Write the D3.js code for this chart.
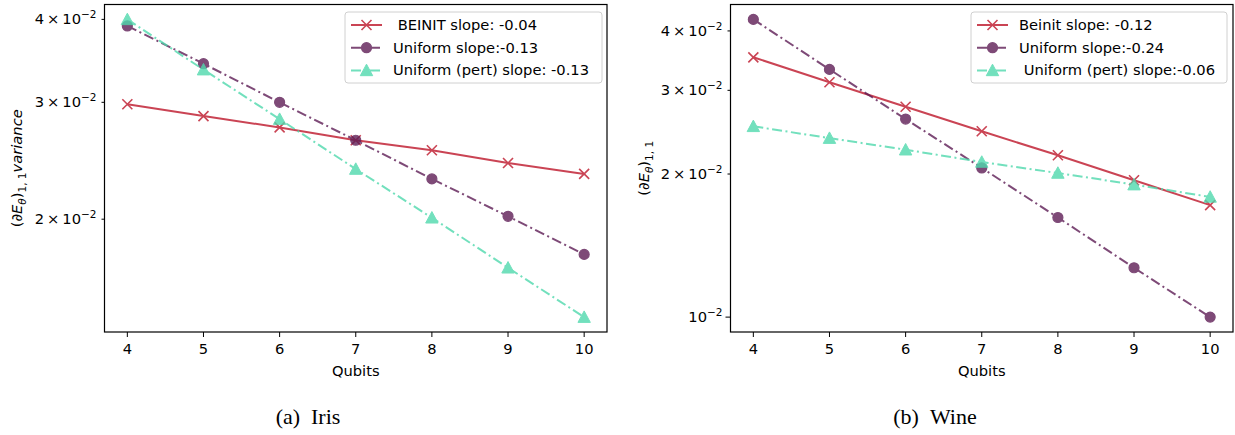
<!DOCTYPE html>
<html>
<head>
<meta charset="utf-8">
<script src="https://cdn.jsdelivr.net/npm/d3@7"></script>
<style>
  body { margin: 0; background: #fff; }
  text { font-family: "DejaVu Sans", sans-serif; fill: #000; white-space: pre; }
  .caption { font-family: "Liberation Serif", "Times New Roman", serif; }
</style>
</head>
<body>
<div id="chart"></div>
<script>
// values
var qubits = [4, 5, 6, 7, 8, 9, 10];

var irisBeinit  = [0.0298, 0.0286, 0.0275, 0.0263, 0.0254, 0.0243, 0.0234];
var irisUniform = [0.0391, 0.0343, 0.0300, 0.0263, 0.0230, 0.0202, 0.0177];
var irisPert    = [0.0400, 0.0336, 0.0283, 0.0238, 0.0201, 0.0169, 0.01424];

var wineBeinit  = [0.0352, 0.0312, 0.0277, 0.0246, 0.0219, 0.0194, 0.0172];
var wineUniform = [0.0423, 0.0332, 0.0261, 0.0206, 0.0162, 0.0127, 0.0100];
var winePert    = [0.0252, 0.0238, 0.0225, 0.0212, 0.0201, 0.0190, 0.0179];

var irisLegend = [" BEINIT slope: -0.04", "Uniform slope:-0.13", "Uniform (pert) slope: -0.13"];
var wineLegend = ["Beinit slope: -0.12", "Uniform slope:-0.24", " Uniform (pert) slope:-0.06"];

var irisYTicks = [0.02, 0.03, 0.04];
var wineYTicks = [0.01, 0.02, 0.03, 0.04];
var xTicks = [4, 5, 6, 7, 8, 9, 10];

var styles = [
  {color: "#c83a4b", dash: null, marker: "x", opacity: 0.95},
  {color: "#5e1d56", dash: "10,3.5,2,3.5", marker: "o", opacity: 0.8},
  {color: "#4fd9ad", dash: "10,3.5,2,3.5", marker: "^", opacity: 0.8}
];

var fs = "14.7px";

var svg = d3.select("#chart").append("svg")
  .attr("width", 1235)
  .attr("height", 435);

function drawMarker(g, type, color, cx, cy) {
  if (type === "x") {
    var s = 5;
    g.append("path")
      .attr("d", "M" + (cx - s) + "," + (cy - s) + "L" + (cx + s) + "," + (cy + s) +
                 "M" + (cx - s) + "," + (cy + s) + "L" + (cx + s) + "," + (cy - s))
      .style("stroke", color).style("stroke-width", 1.6).style("fill", "none");
  } else if (type === "o") {
    g.append("circle")
      .attr("cx", cx).attr("cy", cy).attr("r", 5)
      .style("fill", color).style("stroke", color).style("stroke-width", 1.2);
  } else {
    var h = 6.2;
    g.append("path")
      .attr("d", "M" + cx + "," + (cy - h) + "L" + (cx + h) + "," + (cy + h * 0.85) + "L" + (cx - h) + "," + (cy + h * 0.85) + "Z")
      .style("fill", color).style("stroke", color).style("stroke-width", 1);
  }
}

function tickLabel(t, v) {
  var k = Math.round(v * 100);
  t.attr("text-anchor", "end");
  if (k === 1) {
    t.append("tspan").text("10");
  } else {
    t.append("tspan").text(k + "\u2009\u00d7\u200910");
  }
  t.append("tspan").attr("dy", -6).style("font-size", "10.5px").text("\u22122");
}

function drawPanel(cfg) {
  var x = d3.scaleLinear().domain([3.7, 10.3]).range([cfg.left, cfg.right]);

  var all = [].concat(cfg.series[0], cfg.series[1], cfg.series[2]);
  var lo = Math.log10(d3.min(all)), hi = Math.log10(d3.max(all)), pad = (hi - lo) * 0.05;
  var y = d3.scaleLog().domain([Math.pow(10, lo - pad), Math.pow(10, hi + pad)]).range([cfg.bottom, cfg.top]);

  var g = svg.append("g");

  // lines and markers
  cfg.series.forEach(function(vals, i) {
    var st = styles[i];
    var sg = g.append("g").style("opacity", st.opacity);
    var line = d3.line()
      .x(function(d, j) { return x(qubits[j]); })
      .y(function(d) { return y(d); });
    sg.append("path")
      .datum(vals)
      .attr("d", line)
      .style("fill", "none")
      .style("stroke", st.color)
      .style("stroke-width", 2)
      .style("stroke-dasharray", st.dash);
    vals.forEach(function(v, j) {
      drawMarker(sg, st.marker, st.color, x(qubits[j]), y(v));
    });
  });

  // frame
  g.append("rect")
    .attr("x", cfg.left).attr("y", cfg.top)
    .attr("width", cfg.right - cfg.left).attr("height", cfg.bottom - cfg.top)
    .style("fill", "none").style("stroke", "#000").style("stroke-width", 1.2);

  // x axis
  xTicks.forEach(function(t) {
    g.append("line")
      .attr("x1", x(t)).attr("x2", x(t))
      .attr("y1", cfg.bottom).attr("y2", cfg.bottom + 5)
      .style("stroke", "#000").style("stroke-width", 1);
    g.append("text")
      .attr("x", x(t)).attr("y", cfg.bottom + 22)
      .attr("text-anchor", "middle")
      .style("font-size", fs)
      .text(t);
  });
  g.append("text")
    .attr("x", (cfg.left + cfg.right) / 2).attr("y", cfg.bottom + 44)
    .attr("text-anchor", "middle")
    .style("font-size", fs)
    .text("Qubits");

  // y axis (log)
  cfg.yTicks.forEach(function(v) {
    var major = Math.round(v * 100) === 1;
    g.append("line")
      .attr("x1", cfg.left).attr("x2", cfg.left - (major ? 5 : 3))
      .attr("y1", y(v)).attr("y2", y(v))
      .style("stroke", "#000").style("stroke-width", 1);
    var t = g.append("text")
      .attr("x", cfg.left - 8).attr("y", y(v) + 5)
      .style("font-size", fs);
    tickLabel(t, v);
  });

  // y label
  var yl = g.append("text")
    .attr("transform", "translate(" + cfg.ylabelX + "," + ((cfg.top + cfg.bottom) / 2) + ") rotate(-90)")
    .attr("text-anchor", "middle")
    .style("font-size", fs);
  yl.append("tspan").text("(");
  yl.append("tspan").text("\u2202E").style("font-style", "italic");
  yl.append("tspan").attr("dy", 4).style("font-size", "10.5px").style("font-style", "italic").text("\u03b8");
  yl.append("tspan").attr("dy", -4).text(")");
  yl.append("tspan").attr("dy", 4).style("font-size", "10.5px").text("1, 1");
  if (cfg.ylabelExtra) {
    yl.append("tspan").attr("dy", -4).style("font-style", "italic").text(cfg.ylabelExtra);
  }

  // legend
  var lg = g.append("g");
  lg.append("rect")
    .attr("x", cfg.legX).attr("y", 12)
    .attr("width", cfg.legW).attr("height", 71)
    .attr("rx", 3)
    .style("fill", "#fff").style("fill-opacity", 0.8)
    .style("stroke", "#d0d0d0").style("stroke-width", 1);
  cfg.legend.forEach(function(lab, i) {
    var st = styles[i];
    var ly = 25 + i * 22.7;
    var hx = cfg.legX + 6;
    var eg = lg.append("g").style("opacity", st.opacity);
    eg.append("line")
      .attr("x1", hx).attr("x2", hx + 31)
      .attr("y1", ly).attr("y2", ly)
      .style("stroke", st.color).style("stroke-width", 2)
      .style("stroke-dasharray", st.dash);
    drawMarker(eg, st.marker, st.color, hx + 15.5, ly);
    lg.append("text")
      .attr("x", hx + 42).attr("y", ly + 5)
      .style("font-size", fs)
      .text(lab);
  });

  // caption
  svg.append("text")
    .attr("class", "caption")
    .attr("x", cfg.capX).attr("y", 424)
    .attr("text-anchor", "middle")
    .style("font-size", "22px")
    .text(cfg.caption);
}

drawPanel({
  left: 104.5, right: 607, top: 4.5, bottom: 332,
  series: [irisBeinit, irisUniform, irisPert],
  legend: irisLegend, legX: 345, legW: 257,
  yTicks: irisYTicks,
  ylabelX: 22, ylabelExtra: "variance",
  caption: "(a)\u2002Iris", capX: 308
});

drawPanel({
  left: 730.5, right: 1233, top: 4.5, bottom: 332,
  series: [wineBeinit, wineUniform, winePert],
  legend: wineLegend, legX: 971, legW: 256,
  yTicks: wineYTicks,
  ylabelX: 649, ylabelExtra: null,
  caption: "(b)\u2002Wine", capX: 935
});
</script>
</body>
</html>
